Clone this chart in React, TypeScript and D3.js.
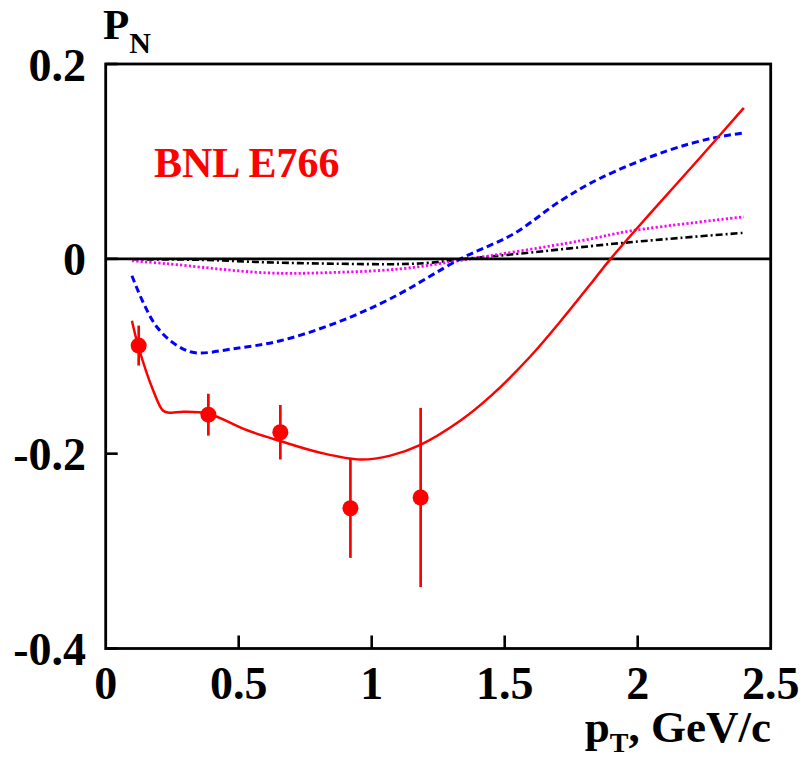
import React from "react";
import * as d3 from "d3";

// ---------- data ----------
const xTicks = [0, 0.5, 1, 1.5, 2, 2.5];
const xTickLabels = ["0", "0.5", "1", "1.5", "2", "2.5"];
const yTicks = [0.2, 0, -0.2, -0.4];
const yTickLabels = ["0.2", "0", "-0.2", "-0.4"];

// BNL E766 data points
const dataPt = [0.124, 0.386, 0.6565, 0.92, 1.184];
const dataP = [-0.089, -0.16, -0.178, -0.256, -0.245];
const dataErr = [0.0205, 0.0215, 0.028, 0.051, 0.092];

// red solid curve
const redPt = [0.0986, 0.122, 0.179, 0.216, 0.243, 0.292, 0.386, 0.532, 0.656, 0.807, 0.957, 1.07, 1.183, 1.334, 1.447, 1.597, 1.71, 1.834, 1.898, 2.048, 2.235, 2.399];
const redP = [-0.0636, -0.0892, -0.1354, -0.1559, -0.158, -0.157, -0.159, -0.176, -0.187, -0.199, -0.206, -0.202, -0.191, -0.166, -0.141, -0.1, -0.064, -0.022, 0, 0.047, 0.104, 0.155];

// blue dashed curve
const bluePt = [0.0986, 0.141, 0.194, 0.268, 0.337, 0.48, 0.6565, 0.856, 1.07, 1.334, 1.533, 1.71, 1.861, 2.112, 2.282, 2.394];
const blueP = [-0.0174, -0.0448, -0.0705, -0.089, -0.0964, -0.0923, -0.0841, -0.0667, -0.041, 0, 0.0256, 0.0595, 0.083, 0.111, 0.124, 0.129];

// magenta dotted curve
const magPt = [0.0986, 0.23, 0.607, 0.856, 1.108, 1.323, 1.785, 1.975, 2.399];
const magP = [-0.002, -0.005, -0.0144, -0.014, -0.0103, -0.002, 0.0185, 0.0287, 0.043];

// black dash-dot curve
const blkPt = [0.0986, 0.356, 0.607, 0.856, 1.108, 1.22, 1.35, 1.56, 1.909, 2.16, 2.399];
const blkP = [-0.0005, -0.001, -0.0036, -0.005, -0.0054, -0.004, 0, 0.0054, 0.0154, 0.0215, 0.0267];

// ---------- layout ----------
const W = 802;
const H = 759;
const L = 105.7;
const R = 770.7;
const T = 64;
const B = 648.5;
const FONT = "'Liberation Serif', 'Times New Roman', serif";

export default function App() {
  const x = d3.scaleLinear().domain([0, 2.5]).range([L, R]);
  const y = d3.scaleLinear().domain([-0.4, 0.2]).range([B, T]);

  const line = d3
    .line<[number, number]>()
    .x((d) => x(d[0]))
    .y((d) => y(d[1]))
    .curve(d3.curveCatmullRom.alpha(0.5));

  const zip = (a: number[], b: number[]) => a.map((v, i) => [v, b[i]] as [number, number]);

  return (
    <svg
      width={W}
      height={H}
      style={{ position: "absolute", left: 0, top: 0, background: "#fff" }}
      fontFamily={FONT}
      fontWeight="bold"
    >
      <rect x={0} y={0} width={W} height={H} fill="#fff" />

      {/* curves */}
      <path d={line(zip(blkPt, blkP)) || ""} fill="none" stroke="#000" strokeWidth={2.6} strokeDasharray="7,3,2,3" />
      <path d={line(zip(magPt, magP)) || ""} fill="none" stroke="#ff00ff" strokeWidth={2.8} strokeDasharray="2.2,2.2" />
      <path d={line(zip(bluePt, blueP)) || ""} fill="none" stroke="#0000ff" strokeWidth={3} strokeDasharray="7,4" />

      {/* zero line */}
      <line x1={x(0)} x2={x(2.5)} y1={y(0)} y2={y(0)} stroke="#000" strokeWidth={2.6} />

      <path d={line(zip(redPt, redP)) || ""} fill="none" stroke="#ff0000" strokeWidth={2.5} />

      {/* data points */}
      {dataPt.map((p, i) => (
        <g key={i}>
          <line
            x1={x(p)}
            x2={x(p)}
            y1={y(dataP[i] + dataErr[i])}
            y2={y(dataP[i] - dataErr[i])}
            stroke="#ff0000"
            strokeWidth={2.7}
          />
          <circle cx={x(p)} cy={y(dataP[i])} r={8} fill="#ff0000" />
        </g>
      ))}

      {/* frame */}
      <rect x={L} y={T} width={R - L} height={B - T} fill="none" stroke="#000" strokeWidth={2.8} />

      {/* x ticks */}
      {xTicks.map((t, i) => (
        <g key={"xt" + i}>
          {i > 0 && i < xTicks.length - 1 && (
            <line x1={x(t)} x2={x(t)} y1={B} y2={B - 13} stroke="#000" strokeWidth={2.6} />
          )}
          <text x={x(t)} y={699} textAnchor="middle" fontSize={46}>
            {xTickLabels[i]}
          </text>
        </g>
      ))}

      {/* y ticks */}
      {yTicks.map((t, i) => (
        <g key={"yt" + i}>
          <line x1={L} x2={L + 12} y1={y(t)} y2={y(t)} stroke="#000" strokeWidth={2.6} />
          <text x={86} y={y(t) + 16.5} textAnchor="end" fontSize={46}>
            {yTickLabels[i]}
          </text>
        </g>
      ))}

      {/* axis titles */}
      <text x={103} y={39} fontSize={43}>
        P
        <tspan fontSize={30} dy={14}>N</tspan>
      </text>
      <text x={771} y={742} textAnchor="end" fontSize={45}>
        p
        <tspan fontSize={28} dy={10}>T</tspan>
        <tspan dy={-10}>, GeV/c</tspan>
      </text>

      {/* label */}
      <text x={154} y={177} fontSize={42} fill="#ff0000">
        BNL E766
      </text>
    </svg>
  );
}
